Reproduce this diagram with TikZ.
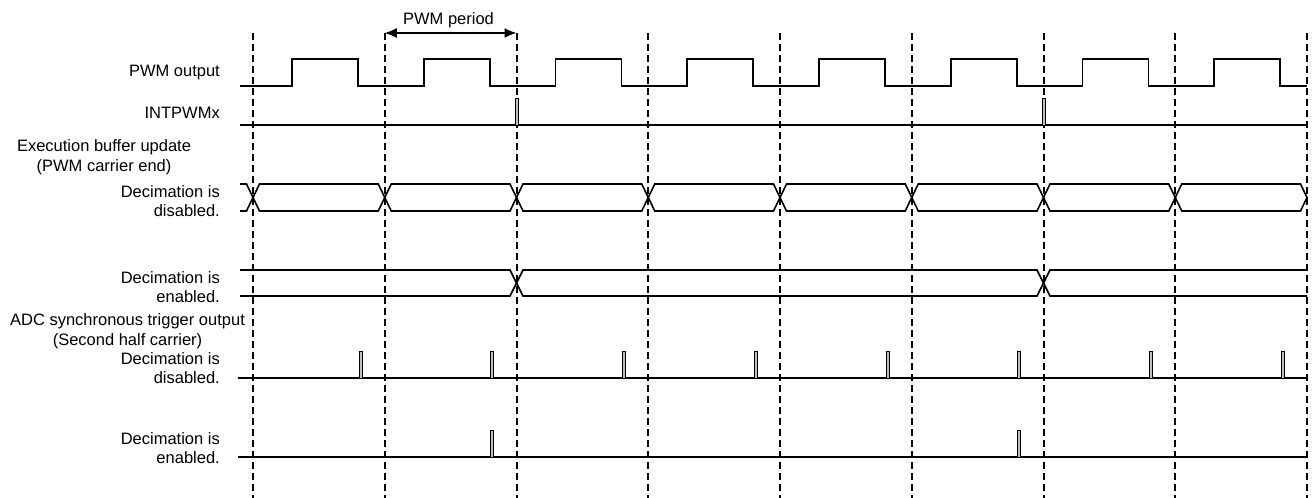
\documentclass[tikz,border=0pt]{standalone}
\usepackage{fontspec}
\setmainfont{Liberation Sans}
\usetikzlibrary{arrows.meta}
\tikzset{
  wave/.style = {line width = 1.6pt},
  guide/.style = {line width = 1.5pt, dash pattern = on 7pt off 4pt},
  pulse/.style = {line width = 1pt, fill = gray!50},
  lbl/.style = {font = \fontsize{16.5}{19.5}\selectfont, inner sep = 0pt, align = right, anchor = east},
  ttl/.style = {font = \fontsize{16.5}{19.5}\selectfont, inner sep = 0pt, align = center}
}
\begin{document}
\begin{tikzpicture}[x = 1pt, y = -1pt]
\useasboundingbox (0,0) rectangle (1312,498);
\pgfmathsetmacro\per{131.75};
\pgfmathsetmacro\xo{253};
\pgfmathsetmacro\dx{6.5};
\foreach \n in {0,...,8} {\pgfmathsetmacro\gx{round(\xo+\per*\n)} \draw [guide] (\gx,33) -- (\gx,498);}
\coordinate (pa) at (\xo+\per,33);
\coordinate (pb) at (\xo+\per*2,33);
\draw [line width = 1.4pt, {Latex[length = 12pt, width = 10pt]}-{Latex[length = 12pt, width = 10pt]}] (pa) -- (pb);
\node [ttl] (per) at (448.5,20) {PWM period};
\node [lbl] (pwm) at (220,73) {PWM output};
\node [lbl] (intp) at (220,113) {INTPWMx};
\node [ttl] (exec) at (104,157) {Execution buffer update\\(PWM carrier end)};
\node [lbl] (edis) at (220,201) {Decimation is\\disabled.};
\node [lbl] (eena) at (220,287) {Decimation is\\enabled.};
\node [ttl] (adc) at (127.5,331) {ADC synchronous trigger output\\(Second half carrier)};
\node [lbl] (adis) at (220,368) {Decimation is\\disabled.};
\node [lbl] (aena) at (220,448) {Decimation is\\enabled.};
\draw [wave] (240,86) \foreach \n in {0,...,7} {-- (292+\per*\n,86) -- (292+\per*\n,59) -- (358+\per*\n,59) -- (358+\per*\n,86)} -- (1307,86);
\draw [wave] (240,125) -- (1307,125);
\foreach \n in {2,6} \draw [pulse] (\xo+\per*\n-1.5,125) rectangle (\xo+\per*\n+1.5,98);
\draw [wave] (240,184) -- (\xo-\dx,184) -- (\xo,197.5) -- (\xo-\dx,211) -- (240,211);
\foreach \n in {0,...,7} \draw [wave] (\xo+\per*\n+\dx,184) -- (\xo+\per*\n+\per-\dx,184) -- (\xo+\per*\n+\per,197.5) -- (\xo+\per*\n+\per-\dx,211) -- (\xo+\per*\n+\dx,211) -- (\xo+\per*\n,197.5) -- cycle;
\draw [wave] (240,270) -- (\xo+\per*2-\dx,270) -- (\xo+\per*2,283) -- (\xo+\per*2-\dx,296) -- (240,296);
\draw [wave] (\xo+\per*2+\dx,270) -- (\xo+\per*6-\dx,270) -- (\xo+\per*6,283) -- (\xo+\per*6-\dx,296) -- (\xo+\per*2+\dx,296) -- (\xo+\per*2,283) -- cycle;
\draw [wave] (1307,270) -- (\xo+\per*6+\dx,270) -- (\xo+\per*6,283) -- (\xo+\per*6+\dx,296) -- (1307,296);
\draw [wave] (238,378) -- (1307,378);
\foreach \n in {0,...,7} \draw [pulse] (359+\per*\n,378) rectangle (362+\per*\n,351);
\draw [wave] (238,457) -- (1307,457);
\foreach \n in {1,5} \draw [pulse] (359+\per*\n,457) rectangle (362+\per*\n,430);
\end{tikzpicture}
\end{document}
